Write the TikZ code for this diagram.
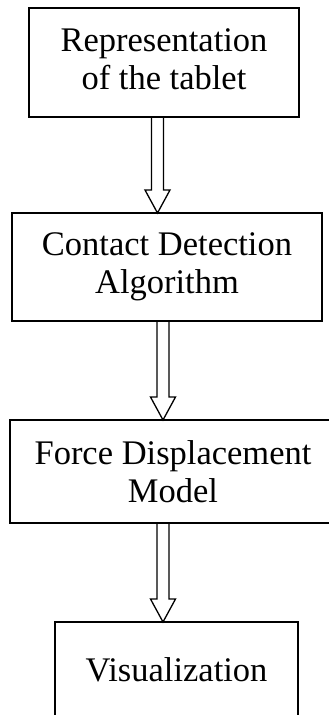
\documentclass[tikz,border=0pt]{standalone}
\usepackage{fontspec}
\setmainfont{Liberation Serif}
\usetikzlibrary{calc}
\tikzset{
  box/.style={draw, line width=1.3pt, rectangle, inner sep=0pt, outer sep=0pt,
    align=center, font=\fontsize{34.5}{38.5}\selectfont},
  hollow/.style={draw, line width=1.3pt, line join=miter}
}
\newcommand\hollowarrow[2]{%
  \draw[hollow] let \p1=(#1), \p2=(#2) in
    (\x1-6pt,\y1) -- (\x1-6pt,\y2+23pt) -- (\x1-12.5pt,\y2+23pt) -- (\x1,\y2)
    -- (\x1+12.5pt,\y2+23pt) -- (\x1+6pt,\y2+23pt) -- (\x1+6pt,\y1);}
\begin{document}
\begin{tikzpicture}[x=1pt,y=1pt]
\useasboundingbox (0,0) rectangle (329,-715);
\clip (0,0) rectangle (329,-715);
\node[box, minimum width=270pt, minimum height=109pt] (b1) at (164,-62.5) {Representation\\of the tablet\rule[-6.6pt]{0pt}{0pt}};
\node[box, minimum width=310pt, minimum height=108pt] (b2) at (167,-267) {Contact Detection\\Algorithm};
\node[box, minimum width=326pt, minimum height=103pt] (b3) at (173,-471.5) {Force Displacement\\Model};
\node[box, minimum width=243pt, minimum height=96pt] (b4) at (176.5,-670) {Visualization};
\coordinate (s1) at ([xshift=-6.5pt]b1.south);
\coordinate (s2) at ([xshift=-4pt]b2.south);
\coordinate (s3) at ([xshift=-10pt]b3.south);
\hollowarrow{s1}{s1 |- b2.north}
\hollowarrow{s2}{s2 |- b3.north}
\hollowarrow{s3}{s3 |- b4.north}
\end{tikzpicture}
\end{document}
